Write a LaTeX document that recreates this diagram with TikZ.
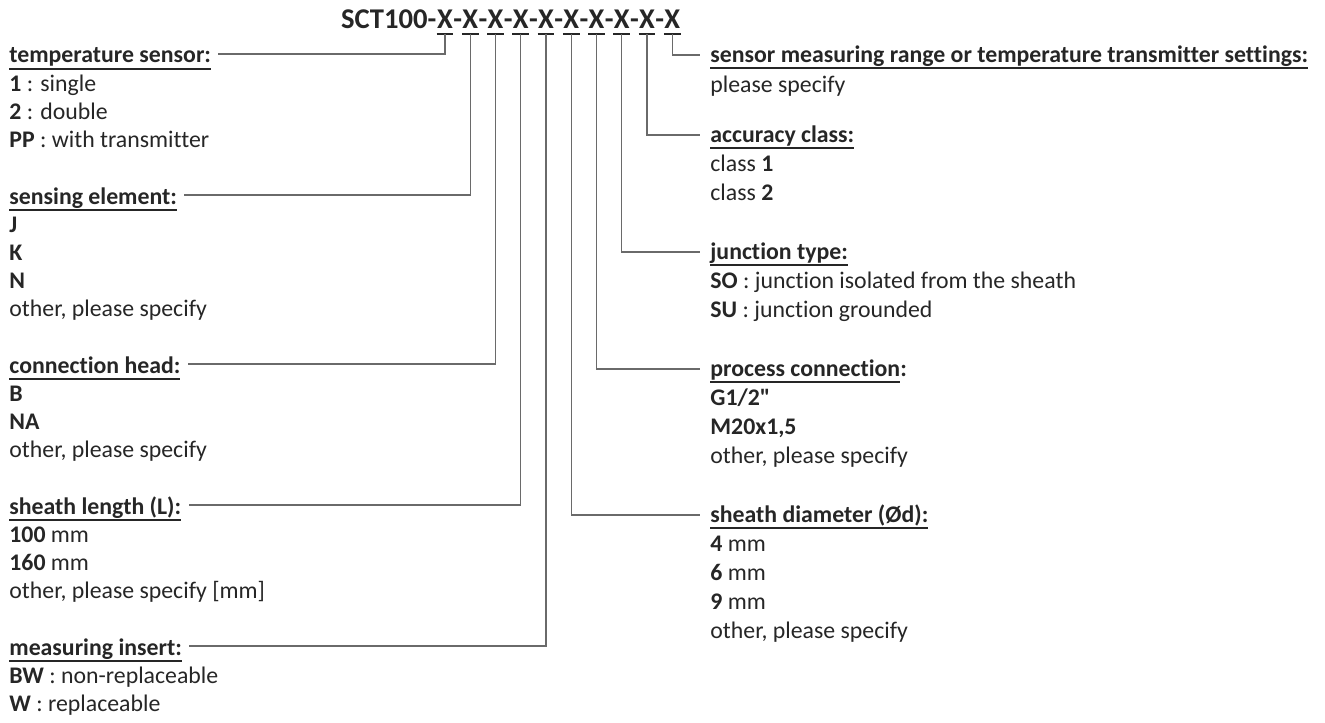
\documentclass[tikz,border=0pt]{standalone}
\usepackage{fontspec}
\setmainfont{Carlito}[Ligatures={NoCommon}]
\usetikzlibrary{calc,positioning}
\newcommand{\hul}[1]{\setbox0\hbox{#1}\rlap{\rule[-3.6pt]{\wd0}{0.9pt}}\box0}
\newcommand{\stack}[1]{\vtop{\let\\\cr\halign{##\hfil\cr#1\crcr}}}
\definecolor{txt}{HTML}{262626}
\definecolor{wire}{HTML}{6A6A6A}

\begin{document}
\begin{tikzpicture}
        [x=0.5pt,y=-0.5pt,
         every node/.style={inner sep=0pt, text=txt},
         ttl/.style={font=\fontsize{14.3}{17}\selectfont\bfseries, anchor=base},
         head/.style={font=\fontsize{11.9}{14}\selectfont\bfseries, anchor=base west},
         lst/.style={font=\fontsize{11.9}{14.1}\selectfont, anchor=base west},
         rlst/.style={font=\fontsize{11.9}{14.6}\selectfont, anchor=base west},
         conn/.style={draw=wire, line width=0.6pt},
         xline/.style={draw=txt, line width=0.9pt}]
        \useasboundingbox (0,0) rectangle (1325,722);
        % order code
        \foreach \i in {1,...,10}
          \node[ttl] (x\i) at ({445+25.25*(\i-1)},29) {X};
        \node[ttl, base left=0pt of x1] (sct) {SCT100-};
        \foreach \i [remember=\i as \j (initially 1)] in {2,...,10}
          \node[ttl] (d\i) at ($(x\j.base)!0.5!(x\i.base)$) {-};
        \foreach \i in {1,...,10}
          \draw[xline] ([yshift=-2.4pt]x\i.base west) -- ([yshift=-2.4pt]x\i.base east);
        % left column
        \node[head] (temp) at (9,63) {\hul{temperature sensor:}};
        \node[lst] (temp-l) at ([yshift=-14.1pt]temp.base west)
          {\stack{\textbf{1} : single\\\textbf{2} : double\\\textbf{PP} : with transmitter}};
        \node[head] (elem) at (9,204) {\hul{sensing element:}};
        \node[lst] (elem-l) at ([yshift=-14.1pt]elem.base west)
          {\stack{\textbf{J}\\\textbf{K}\\\textbf{N}\\other, please specify}};
        \node[head] (chead) at (9,373) {\hul{connection head:}};
        \node[lst] (chead-l) at ([yshift=-14.1pt]chead.base west)
          {\stack{\textbf{B}\\\textbf{NA}\\other, please specify}};
        \node[head] (slen) at (9,514) {\hul{sheath length (L):}};
        \node[lst] (slen-l) at ([yshift=-14.1pt]slen.base west)
          {\stack{\textbf{100} mm\\\textbf{160} mm\\other, please specify [mm]}};
        \node[head] (insert) at (9,655) {\hul{measuring insert:}};
        \node[lst] (insert-l) at ([yshift=-14.1pt]insert.base west)
          {\stack{\textbf{BW} : non-replaceable\\\textbf{W} : replaceable}};
        % right column
        \node[head] (range) at (710,62) {\hul{sensor measuring range or temperature transmitter settings:}};
        \node[rlst] (range-l) at ([yshift=-15pt]range.base west) {please specify};
        \node[head] (acc) at (710,142) {\hul{accuracy class:}};
        \node[rlst] (acc-l) at ([yshift=-14.6pt]acc.base west)
          {\stack{class \textbf{1}\\class \textbf{2}}};
        \node[head] (junc) at (710,259) {\hul{junction type:}};
        \node[rlst] (junc-l) at ([yshift=-14.6pt]junc.base west)
          {\stack{\textbf{SO} : junction isolated from the sheath\\\textbf{SU} : junction grounded}};
        \node[head] (proc) at (710,376) {\hul{process connection}:};
        \node[rlst] (proc-l) at ([yshift=-14.6pt]proc.base west)
          {\stack{\textbf{G1/2\textquotedbl}\\\textbf{M20x1,5}\\other, please specify}};
        \node[head] (sdia) at (710,522) {\hul{sheath diameter (Ød):}};
        \node[rlst] (sdia-l) at ([yshift=-14.6pt]sdia.base west)
          {\stack{\textbf{4} mm\\\textbf{6} mm\\\textbf{9} mm\\other, please specify}};
        % connectors
        \foreach \i/\h in {1/temp,2/elem,3/chead,4/slen,5/insert}
          \draw[conn, shorten >=3.5pt] ([yshift=-2.4pt]x\i.base) |- ([yshift=4.5pt]\h.base east);
        \foreach \i/\h in {6/sdia,7/proc,8/junc,9/acc,10/range}
          \draw[conn, shorten >=5pt] ([yshift=-2.4pt]x\i.base) |- ([yshift=3.5pt]\h.base west);
      \end{tikzpicture}
\end{document}
